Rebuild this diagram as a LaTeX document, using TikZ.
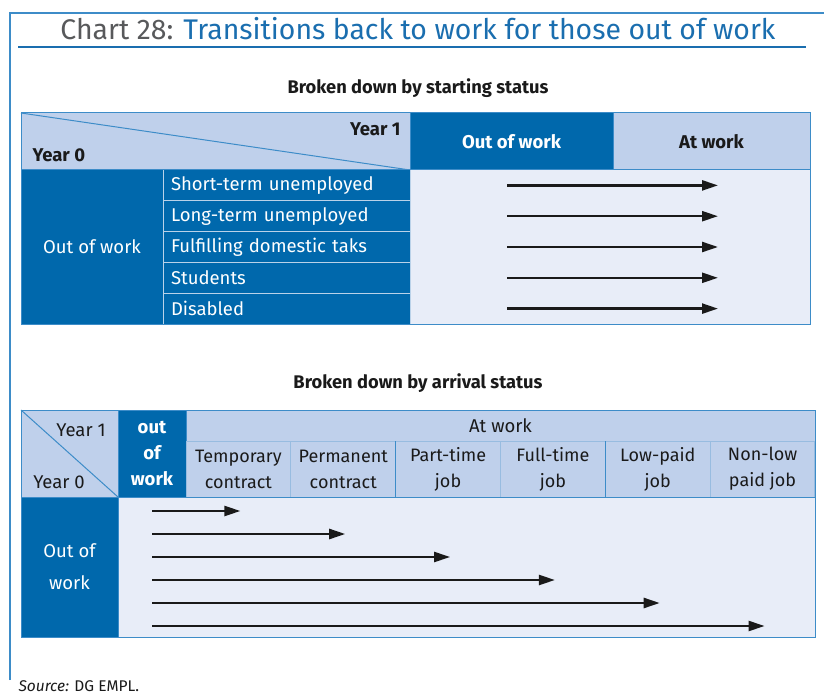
\documentclass[tikz,border=0pt]{standalone}
\usepackage{fontspec}
\setmainfont{Fira Sans}
\usetikzlibrary{arrows.meta,positioning}
\definecolor{ecdark}{HTML}{0068AC}
\definecolor{eclight}{HTML}{BFD0EB}
\definecolor{ecpale}{HTML}{E8EDF8}
\definecolor{ecline}{HTML}{3D8CC8}
\definecolor{ectitle}{HTML}{1A6EAF}
\definecolor{ecgray}{HTML}{58595B}
\definecolor{ecink}{HTML}{1A1A1A}

\begin{document}
\begin{tikzpicture}[
    x=1pt,
    y=-1pt,
    font=\fontsize{18.5}{22}\selectfont,
    text=ecink,
    boldtext/.style={font=\fontsize{18.5}{22}\selectfont\bfseries},
    cell/.style={rectangle, draw=ecline, line width=1pt, inner sep=0pt, outer sep=0pt, anchor=north west},
    darkcell/.style={cell, fill=ecdark, text=white},
    lightcell/.style={cell, fill=eclight, text=ecink},
    palecell/.style={cell, fill=ecpale},
    subcell/.style={lightcell, draw=eclight!70!ecline, minimum width=104.83pt, minimum height=56pt, align=center, font=\fontsize{18}{26}\selectfont},
    flow/.style={-{Triangle[length=16pt,width=10pt]}, line width=2.4pt, color=ecink}
  ]
    \useasboundingbox (0,0) rectangle (824,695);

    % frame and title
    \draw[ecline, line width=1.2pt] (10,680) -- (10,13) -- (824,13);
    \node[text=ectitle, font=\fontsize{28.4}{32}\selectfont] (title) at (418,29) {{\color{ecgray}Chart 28:} Transitions back to work for those out of work};
    \draw[ectitle, line width=1.5pt] (18,47) -- (806,47);

    % first table
    \node[font=\fontsize{18.3}{22}\selectfont\bfseries] (cap1) at (418,88) {Broken down by starting status};
    \node[lightcell, minimum width=389pt, minimum height=57pt] (t1corner) at (21,113) {};
    \draw[ecline, line width=1pt] (t1corner.north west) -- (t1corner.south east);
    \node[anchor=east, boldtext] (t1y1) at (404,129) {Year 1};
    \node[anchor=west, boldtext] (t1y0) at (29,155) {Year 0};
    \node[darkcell, minimum width=203pt, minimum height=57pt, boldtext] (t1out) at (410,113) {Out of work};
    \node[lightcell, minimum width=197pt, minimum height=57pt, boldtext] (t1at) at (613,113) {At work};
    \node[darkcell, minimum width=142pt, minimum height=154pt] (t1left) at (21,170) {Out of work};
    \node[palecell, minimum width=400pt, minimum height=154pt] (t1body) at (410,170) {};
    \foreach \lab [count=\i] in {Short-term unemployed, Long-term unemployed, Fulfilling domestic taks, Students, Disabled} {
      \node[darkcell, draw=ecpale!80!ecdark, minimum height=30.8pt, text width=231pt, inner xsep=8pt, align=left] (t1r\i) at (163,{170+(\i-1)*30.8}) {\lab};
      \draw[flow] ([xshift=97pt]t1r\i.east) -- ([xshift=308pt]t1r\i.east);
    }
    \draw[ecline, line width=1pt] (t1left.north west) rectangle (t1body.south east);

    % second table
    \node[font=\fontsize{18.3}{22}\selectfont\bfseries] (cap2) at (418,383) {Broken down by arrival status};
    \node[lightcell, minimum width=97pt, minimum height=87pt] (t2corner) at (21,410) {};
    \draw[ecline, line width=1pt] (t2corner.north west) -- (t2corner.south east);
    \node (t2y1) at (81,430) {Year 1};
    \node (t2y0) at (59,482) {Year 0};
    \node[darkcell, minimum width=68pt, minimum height=87pt, align=center, font=\fontsize{18.5}{26}\selectfont\bfseries] (t2out) at (118,410) {out\\of\\work};
    \node[lightcell, minimum width=629pt, minimum height=31pt] (t2at) at (186,410) {At work};
    \foreach \lab [count=\i] in {Temporary\\contract, Permanent\\contract, Part-time\\job, Full-time\\job, Low-paid\\job, Non-low\\paid job} {
      \node[subcell] (t2c\i) at ({186+(\i-1)*104.83},441) {\lab};
    }
    \draw[ecline, line width=1pt] (t2c3.north west) -- (t2c3.south west);
    \draw[ecline, line width=1pt] (t2c5.north west) -- (t2c5.south west);
    \node[darkcell, minimum width=97pt, minimum height=140pt, align=center, font=\fontsize{18.5}{32}\selectfont] (t2left) at (21,497) {Out of\\work};
    \node[palecell, minimum width=697pt, minimum height=140pt] (t2body) at (118,497) {};
    \foreach \i in {1,...,6} {
      \coordinate (t2s\i) at (152,{511+(\i-1)*23});
      \draw[flow] (t2s\i) -- ([xshift=2pt]t2s\i -| t2c\i.center);
    }
    \draw[ecline, line width=1pt] (t2corner.north west) rectangle (t2body.south east);

    % source
    \node[anchor=west, font=\fontsize{15.5}{18}\selectfont] (src) at (15,686) {\textit{Source:} DG EMPL.};
  \end{tikzpicture}
\end{document}
